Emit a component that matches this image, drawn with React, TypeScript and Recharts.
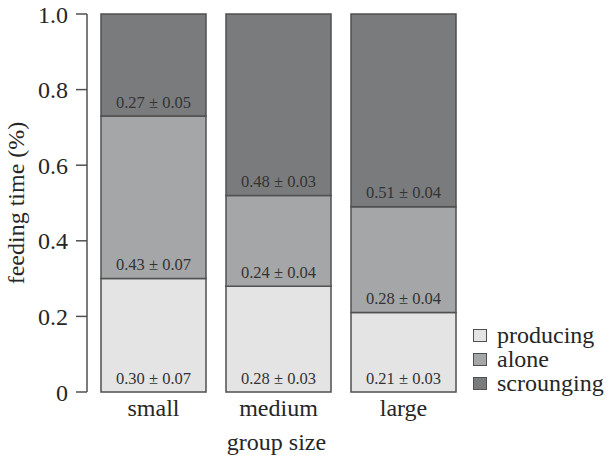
import { BarChart, Bar, XAxis, YAxis, LabelList, Label } from 'recharts';

const groups = ['small', 'medium', 'large'];
const producing = [0.3, 0.28, 0.21];
const alone = [0.43, 0.24, 0.28];
const scrounging = [0.27, 0.48, 0.51];
const producingSe = [0.07, 0.03, 0.03];
const aloneSe = [0.07, 0.04, 0.04];
const scroungingSe = [0.05, 0.03, 0.04];
const yTicks = [0, 0.2, 0.4, 0.6, 0.8, 1.0];

const COLORS = {
  producing: '#e4e4e4',
  alone: '#a5a6a8',
  scrounging: '#7a7b7d',
};
const EDGE = '#505050';
const TEXT = '#262626';
const FONT = 'Liberation Serif, serif';

const data = groups.map((g, i) => ({
  group: g,
  producing: producing[i],
  alone: alone[i],
  scrounging: scrounging[i],
  producingLabel: `${producing[i].toFixed(2)} ± ${producingSe[i].toFixed(2)}`,
  aloneLabel: `${alone[i].toFixed(2)} ± ${aloneSe[i].toFixed(2)}`,
  scroungingLabel: `${scrounging[i].toFixed(2)} ± ${scroungingSe[i].toFixed(2)}`,
}));

// label sits just above the lower edge of its segment
const SegmentLabel = (props: any) => {
  const { x, y, width, height, value } = props;
  return (
    <text
      x={x + width / 2}
      y={y + height - 14}
      textAnchor="middle"
      dominantBaseline="central"
      fontFamily={FONT}
      fontSize={16.5}
      fill="#333"
    >
      {value}
    </text>
  );
};

const legendItems = [
  { name: 'producing', color: COLORS.producing },
  { name: 'alone', color: COLORS.alone },
  { name: 'scrounging', color: COLORS.scrounging },
];

const LegendBox = () => (
  <div
    style={{
      position: 'absolute',
      left: 473,
      top: 323,
      fontFamily: FONT,
      fontSize: 24,
      color: TEXT,
    }}
  >
    {legendItems.map((it) => (
      <div key={it.name} style={{ display: 'flex', alignItems: 'center', height: 24 }}>
        <span
          style={{
            display: 'inline-block',
            width: 12,
            height: 11,
            background: it.color,
            border: `1.5px solid ${EDGE}`,
            marginRight: 10,
          }}
        />
        <span>{it.name}</span>
      </div>
    ))}
  </div>
);

export default function App() {
  return (
    <div style={{ position: 'absolute', left: 0, top: 0, width: 609, height: 459, background: '#fff' }}>
      <BarChart
        width={609}
        height={459}
        data={data}
        margin={{ top: 14, right: 143, bottom: 0, left: 0 }}
        barSize={105}
      >
        <XAxis
          dataKey="group"
          height={67}
          axisLine={false}
          tickLine={false}
          tickSize={0}
          tickMargin={7}
          padding={{ left: 4, right: 0 }}
          tick={{ fontFamily: FONT, fontSize: 24, fill: TEXT }}
        >
          <Label
            value="group size"
            position="insideBottom"
            offset={9}
            style={{ fontFamily: FONT, fontSize: 24, fill: TEXT }}
          />
        </XAxis>
        <YAxis
          width={87}
          domain={[0, 1]}
          ticks={yTicks}
          interval={0}
          tickSize={11}
          tickMargin={8}
          tickFormatter={(v: number) => (v === 0 ? '0' : v.toFixed(1))}
          axisLine={{ stroke: EDGE, strokeWidth: 1.5 }}
          tickLine={{ stroke: EDGE, strokeWidth: 1.5 }}
          tick={{ fontFamily: FONT, fontSize: 24, fill: TEXT }}
        >
          <Label
            content={() => (
              <text
                x={16}
                y={203}
                transform="rotate(-90 16 203)"
                textAnchor="middle"
                dominantBaseline="central"
                fontFamily={FONT}
                fontSize={24}
                fill={TEXT}
              >
                feeding time (%)
              </text>
            )}
          />
        </YAxis>
        <Bar dataKey="producing" stackId="a" fill={COLORS.producing} stroke={EDGE} strokeWidth={1.5} isAnimationActive={false}>
          <LabelList dataKey="producingLabel" content={<SegmentLabel />} />
        </Bar>
        <Bar dataKey="alone" stackId="a" fill={COLORS.alone} stroke={EDGE} strokeWidth={1.5} isAnimationActive={false}>
          <LabelList dataKey="aloneLabel" content={<SegmentLabel />} />
        </Bar>
        <Bar dataKey="scrounging" stackId="a" fill={COLORS.scrounging} stroke={EDGE} strokeWidth={1.5} isAnimationActive={false}>
          <LabelList dataKey="scroungingLabel" content={<SegmentLabel />} />
        </Bar>
      </BarChart>
      <LegendBox />
    </div>
  );
}
